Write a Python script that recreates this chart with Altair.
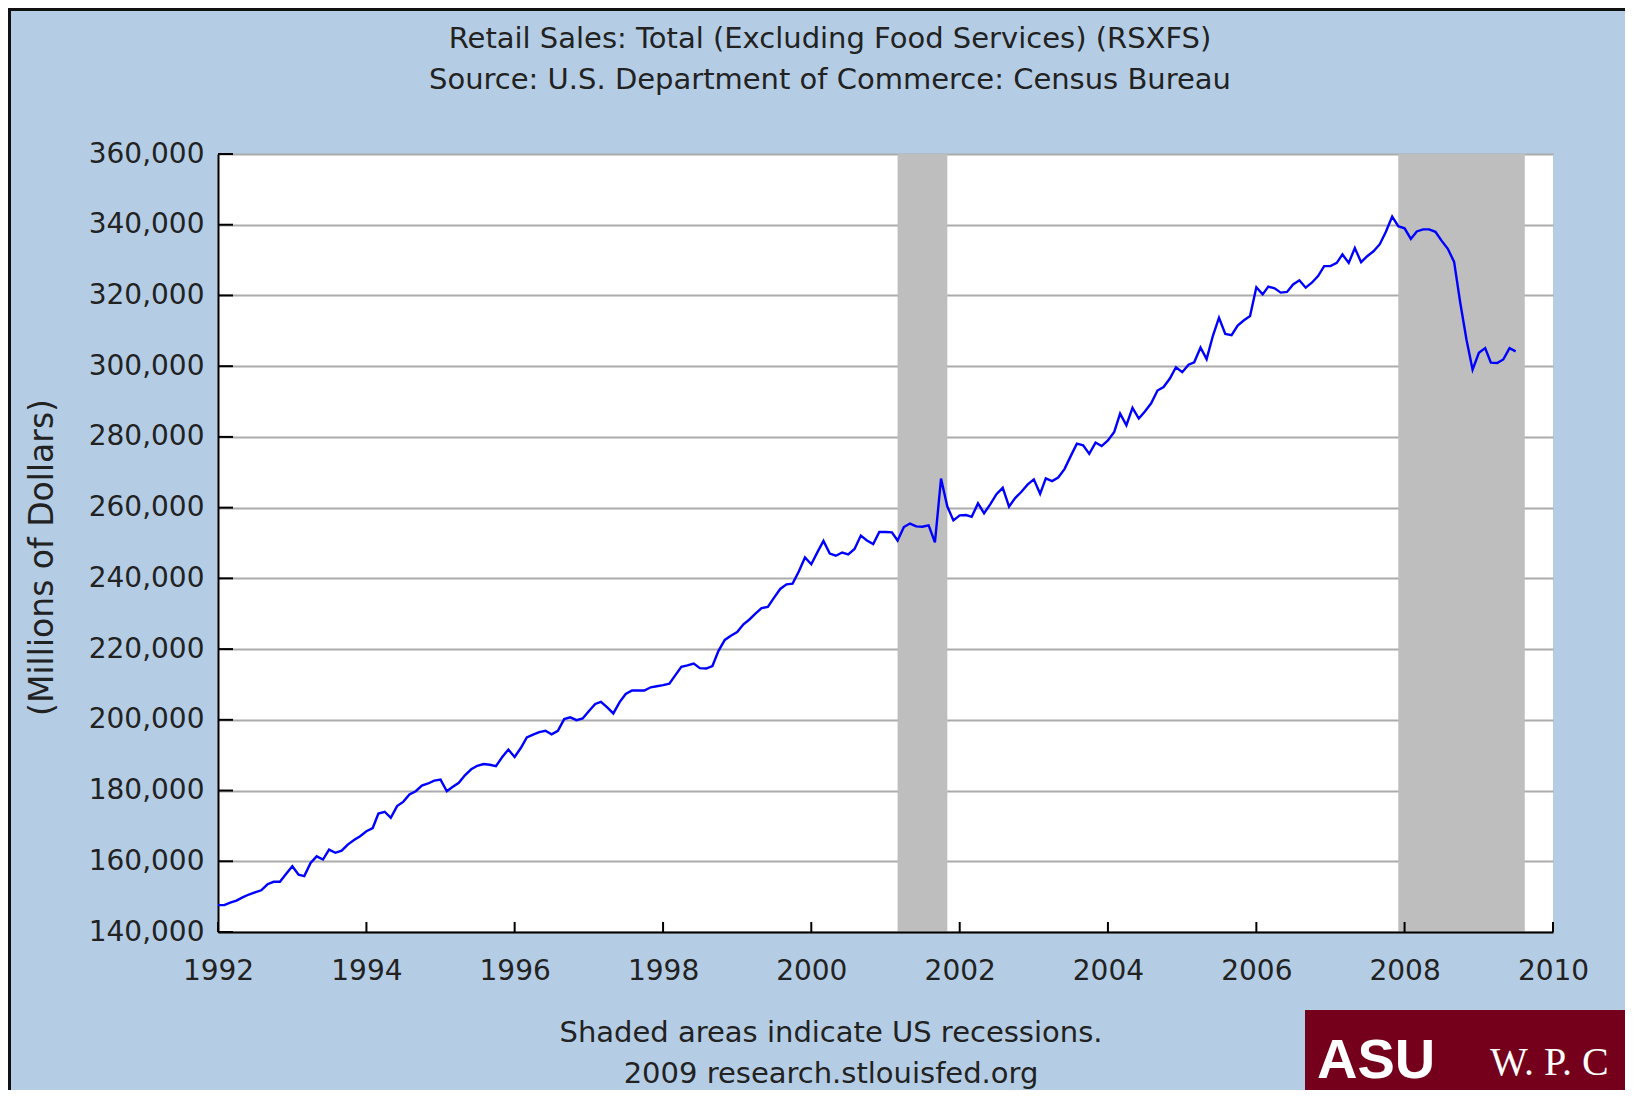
import altair as alt
import pandas as pd

# ---------------- data (thousands of millions of dollars, monthly from Jan 1992) -------------
sales_1992 = [147.6, 147.6, 148.3, 148.9, 149.8, 150.6, 151.2, 151.8, 153.5, 154.2, 154.2, 156.4]
sales_1993 = [158.6, 156.2, 155.8, 159.5, 161.4, 160.5, 163.3, 162.4, 163.0, 164.7, 166.0, 167.1]
sales_1994 = [168.5, 169.4, 173.5, 174.0, 172.3, 175.6, 176.8, 178.9, 179.8, 181.4, 182.0, 182.8]
sales_1995 = [183.1, 179.8, 181.0, 182.2, 184.3, 186.0, 187.0, 187.5, 187.3, 186.9, 189.5, 191.6]
sales_1996 = [189.5, 192.1, 195.0, 195.8, 196.5, 196.9, 195.9, 196.9, 200.2, 200.7, 199.9, 200.4]
sales_1997 = [202.5, 204.5, 205.1, 203.5, 201.8, 205.0, 207.3, 208.3, 208.3, 208.3, 209.2, 209.5]
sales_1998 = [209.8, 210.2, 212.5, 215.0, 215.4, 215.9, 214.6, 214.5, 215.2, 219.5, 222.6, 223.8]
sales_1999 = [224.8, 227.0, 228.3, 230.0, 231.6, 231.9, 234.5, 237.0, 238.3, 238.5, 242.0, 245.9]
sales_2000 = [244.0, 247.5, 250.6, 247.0, 246.4, 247.3, 246.8, 248.3, 252.1, 250.7, 249.7, 253.1]
sales_2001 = [253.1, 253.0, 250.7, 254.5, 255.5, 254.7, 254.6, 255.0, 250.2, 268.2, 260.3, 256.4]
sales_2002 = [257.8, 257.9, 257.4, 261.2, 258.4, 261.0, 263.8, 265.6, 260.3, 262.7, 264.5, 266.5]
sales_2003 = [268.0, 263.9, 268.3, 267.5, 268.5, 270.9, 274.5, 278.1, 277.6, 275.2, 278.4, 277.4]
sales_2004 = [279.0, 281.4, 286.6, 283.3, 288.2, 285.2, 287.2, 289.5, 293.1, 294.1, 296.5, 299.7]
sales_2005 = [298.3, 300.4, 301.1, 305.3, 302.0, 308.6, 313.7, 309.1, 308.8, 311.5, 313.0, 314.2]
sales_2006 = [322.3, 320.3, 322.5, 322.0, 320.8, 321.0, 323.1, 324.3, 322.2, 323.6, 325.5, 328.3]
sales_2007 = [328.3, 329.2, 331.6, 329.2, 333.4, 329.4, 331.1, 332.5, 334.5, 338.0, 342.3, 339.6]
sales_2008 = [339.0, 336.0, 338.1, 338.7, 338.7, 338.0, 335.5, 333.2, 329.5, 318.0, 307.5, 299.0]
sales_2009 = [303.8, 305.1, 301.0, 300.9, 301.9, 305.1, 304.2]

recession_start = ["2001-03-01", "2007-12-01"]
recession_end = ["2001-11-01", "2009-08-15"]

y_ticks = [140000, 160000, 180000, 200000, 220000, 240000, 260000, 280000,
           300000, 320000, 340000, 360000]
x_tick_years = [1992, 1994, 1996, 1998, 2000, 2002, 2004, 2006, 2008, 2010]

title_lines = ["Retail Sales: Total (Excluding Food Services) (RSXFS)",
               "Source: U.S. Department of Commerce: Census Bureau"]
footer_lines = ["Shaded areas indicate US recessions.",
                "2009 research.stlouisfed.org"]
y_title = "(Millions of Dollars)"

# ---------------- tables ----------------
all_sales = (sales_1992 + sales_1993 + sales_1994 + sales_1995 + sales_1996 + sales_1997
             + sales_1998 + sales_1999 + sales_2000 + sales_2001 + sales_2002 + sales_2003
             + sales_2004 + sales_2005 + sales_2006 + sales_2007 + sales_2008 + sales_2009)
dates = pd.date_range("1992-01-01", periods=len(all_sales), freq="MS")
df = pd.DataFrame({"date": dates.strftime("%Y-%m-%d"), "sales": [v * 1000 for v in all_sales]})
rec_df = pd.DataFrame({"start": recession_start, "end": recession_end})
yt_df = pd.DataFrame({"v": y_ticks})
xt_df = pd.DataFrame({"d": [f"{y}-01-01" for y in x_tick_years]})
one = pd.DataFrame({"k": [0]})

W, H = 1335, 778
PAD_R, PAD_B = 72, 158
BG = "#B4CDE4"
FONT = "DejaVu Sans"
TXT = "#222222"

x_scale = alt.Scale(domain=[alt.DateTime(year=1992, month=1, date=1),
                            alt.DateTime(year=2010, month=1, date=1)], nice=False)
y_scale = alt.Scale(domain=[140000, 360000], nice=False, zero=False)

x_axis = alt.Axis(title="", format="%Y", values=[alt.DateTime(year=y, month=1, date=1) for y in x_tick_years],
                  labelFont=FONT, labelFontSize=28, labelColor=TXT, labelPadding=25,
                  ticks=False, domainColor="black", domainWidth=2, grid=False,
                  labelFlush=False, zindex=1)
y_axis = alt.Axis(title=y_title, values=y_ticks, format=",d",
                  labelFont=FONT, labelFontSize=28, labelColor=TXT, labelPadding=14,
                  ticks=False, domainColor="black", domainWidth=2,
                  grid=True, gridColor="#ABABAB", gridWidth=2,
                  titleFont=FONT, titleFontSize=33, titleFontWeight="normal", titleColor=TXT,
                  titleX=-176, titleY=403, titleBaseline="middle", titleAlign="center")

rec = alt.Chart(rec_df).mark_rect(color="#BEBEBE").encode(
    x=alt.X("start:T", scale=x_scale, axis=x_axis),
    x2="end:T",
    y=alt.value(0), y2=alt.value(H),
)

line = alt.Chart(df).mark_line(color="#0000FF", strokeWidth=2.4).encode(
    x=alt.X("date:T", scale=x_scale, axis=x_axis),
    y=alt.Y("sales:Q", scale=y_scale, axis=y_axis),
)

ytick = alt.Chart(yt_df).mark_rule(color="black", strokeWidth=2).encode(
    y=alt.Y("v:Q", scale=y_scale), x=alt.value(0), x2=alt.value(15))

xtick = alt.Chart(xt_df).mark_rule(color="black", strokeWidth=2).encode(
    x=alt.X("d:T", scale=x_scale), y=alt.value(H), y2=alt.value(H - 10))

def label(text, x, y, size=29, color=TXT, font=FONT, align="center", weight="normal", baseline="middle"):
    return alt.Chart(one).mark_text(font=font, fontSize=size, color=color, align=align,
                                    baseline=baseline, fontWeight=weight).encode(
        x=alt.value(x), y=alt.value(y), text=alt.value(text))

texts = [
    label(title_lines[0], 612, -115),
    label(title_lines[1], 612, -74),
    label(footer_lines[0], 613, 879),
    label(footer_lines[1], 613, 920),
]

# page border lines (top and left); right and bottom edges kept in background colour
border_top = alt.Chart(one).mark_rule(color="#111111", strokeWidth=3).encode(
    x=alt.value(-210), x2=alt.value(W + PAD_R), y=alt.value(-144.5))
border_left = alt.Chart(one).mark_rule(color="#111111", strokeWidth=3).encode(
    x=alt.value(-208.5), y=alt.value(-146), y2=alt.value(H + PAD_B))

# logo block in the bottom-right corner
logo_box = alt.Chart(one).mark_rect(color="#74001B").encode(
    x=alt.value(1087), x2=alt.value(W + PAD_R), y=alt.value(856), y2=alt.value(H + PAD_B))
logo_asu = label("ASU", 1099, 924, size=56, color="white", font="Liberation Sans",
                 align="left", weight="bold", baseline="alphabetic")
logo_wpc = label("W. P. C", 1272, 921, size=40, color="white", font="Liberation Serif",
                 align="left", baseline="alphabetic")

chart = alt.layer(rec, line, ytick, xtick, border_top, border_left,
                  logo_box, logo_asu, logo_wpc, *texts).properties(
    width=W, height=H,
    autosize=alt.AutoSizeParams(type="none"),
    padding={"left": 210, "top": 146, "right": PAD_R, "bottom": PAD_B},
    background=BG,
).configure_view(fill="white", strokeWidth=0)

chart.save("out.html", embed_options={"renderer": "svg", "actions": False})
